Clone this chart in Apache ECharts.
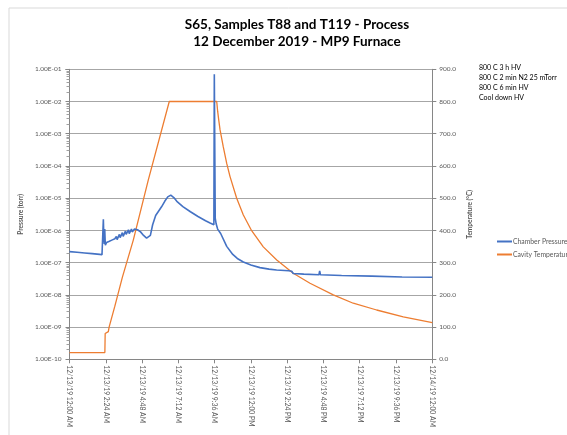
<!DOCTYPE html>
<html><head><meta charset="utf-8">
<script src="https://cdn.jsdelivr.net/npm/echarts@6/dist/echarts.min.js"></script>
<style>html,body{margin:0;padding:0;background:#fff}#c{width:567px;height:435px}</style>
</head><body><div id="c"></div>
<script>
// ---- data ----
const titleLines = ['S65, Samples T88 and T119 - Process', '12 December 2019 - MP9 Furnace'];
const tickLabels = ['12/13/19 12:00 AM','12/13/19 2:24 AM','12/13/19 4:48 AM','12/13/19 7:12 AM','12/13/19 9:36 AM','12/13/19 12:00 PM','12/13/19 2:24 PM','12/13/19 4:48 PM','12/13/19 7:12 PM','12/13/19 9:36 PM','12/14/19 12:00 AM'];
const notes = ['800 C 3 h HV','800 C 2 min N2 25 mTorr','800 C 6 min HV','Cool down HV'];
const seriesNames = ['Chamber Pressure','Cavity Temperature'];
// hours since 12/13/19 12:00 AM
const pressureHours = [0,0.5,1.0,1.5,2.0,2.15,2.2,2.24,2.27,2.3,2.33,2.37,2.45,2.6,2.8,3.0,3.1,3.15,3.3,3.35,3.5,3.55,3.7,3.75,3.9,3.95,4.1,4.15,4.3,4.5,4.7,4.9,5.1,5.2,5.35,5.5,5.7,5.9,6.1,6.3,6.5,6.7,6.9,7.1,7.5,8.0,8.5,9.0,9.3,9.55,9.58,9.61,9.64,9.7,9.8,10.0,10.4,10.8,11.1,11.5,12.0,12.6,13.2,13.7,14.5,14.7,14.8,15.5,16.5,16.55,16.6,18,20,22,24];
const pressureTorr = [2.2e-7,2.1e-7,2.0e-7,1.9e-7,1.8e-7,1.75e-7,1.8e-7,2.2e-6,6e-7,3.8e-7,1.1e-6,3.5e-7,4.2e-7,4.5e-7,5e-7,5.5e-7,6.5e-7,5.2e-7,7.5e-7,6e-7,8.5e-7,6.5e-7,9.5e-7,7.5e-7,1.05e-6,8e-7,1.1e-6,9e-7,1.1e-6,1.05e-6,9e-7,7e-7,5.8e-7,5.9e-7,7e-7,1.5e-6,2.9e-6,4e-6,5.5e-6,8e-6,1.1e-5,1.25e-5,1.05e-5,8e-6,5.5e-6,3.8e-6,2.7e-6,2e-6,1.7e-6,1.5e-6,7e-2,7e-2,2.4e-6,1.6e-6,1.1e-6,8e-7,3.2e-7,1.8e-7,1.35e-7,1.05e-7,8.5e-8,7e-8,6.3e-8,5.9e-8,5.6e-8,5.4e-8,4.6e-8,4.4e-8,4.2e-8,5.5e-8,4.2e-8,4e-8,3.8e-8,3.6e-8,3.5e-8];
const tempHours = [0,2.34,2.36,2.4,2.57,2.62,3.0,3.5,4.22,5.21,6.6,9.74,9.8,9.88,9.96,10.17,10.4,10.62,11.06,11.5,12.05,12.82,13.71,14.8,15.91,17.45,18.77,20.32,22.08,24];
const tempC = [21,21,80,84,86,100,165,255,370,556,800,800,770,740,712,660,608,567,500,448,399,349,308,267,236,200,174,153,132,114];

const pressureData = pressureHours.map((h,i)=>[h,pressureTorr[i]]);
const tempData = tempHours.map((h,i)=>[h,tempC[i]]);

const FONT = 'Lato, "Open Sans", sans-serif';
const LBL = '#595959';
function fmtExp(v){
  const e = Math.round(Math.log10(v));
  const m = v/Math.pow(10,e);
  const s = e<0?'-':'+';
  const a = Math.abs(e);
  return m.toFixed(2)+'E'+s+(a<10?'0':'')+a;
}
const chart = echarts.init(document.getElementById('c'), null, {renderer:'canvas'});
chart.setOption({
  animation:false,
  backgroundColor:'#fff',
  title:{text:titleLines.join('\n'), left:292, textAlign:'center', top:11,
    textStyle:{fontFamily:FONT,fontSize:13.5,fontWeight:'bold',color:'#000',lineHeight:17}},
  graphic:[
    {type:'rect', shape:{x:9,y:8,width:700,height:600}, style:{fill:'none',stroke:'#d9d9d9',lineWidth:1}, silent:true},
    {type:'text', left:479, top:63, style:{text:notes.join('\n'), fontFamily:FONT, fontSize:7, lineHeight:10, fill:'#000'}}
  ],
  legend:{orient:'vertical', left:492, top:233, itemWidth:15, itemHeight:2, itemGap:6, icon:'rect',
    textStyle:{fontFamily:FONT,fontSize:6.8,color:LBL,padding:[0,0,0,-4]},
    data:seriesNames},
  grid:{left:69.5, right:134.7, top:69.3, bottom:75.7, containLabel:false},
  xAxis:{type:'value', min:0, max:24, interval:2.4,
    axisLine:{lineStyle:{color:'#868686',width:1}},
    axisTick:{show:true,length:4,lineStyle:{color:'#868686'}},
    splitLine:{show:false},
    axisLabel:{rotate:-90, fontFamily:FONT, fontSize:6.8, color:LBL, margin:6,
      formatter:v=>tickLabels[Math.round(v/2.4)]}},
  yAxis:[
    {type:'log', logBase:10, min:1e-10, max:1e-1, position:'left',
      name:'Pressure (torr)', nameLocation:'middle', nameRotate:90, nameGap:37,
      nameTextStyle:{fontFamily:FONT,fontSize:6.5,fontWeight:'bold',color:LBL},
      axisLine:{show:true,lineStyle:{color:'#868686'}},
      axisTick:{show:true,length:4,lineStyle:{color:'#868686'}},
      minorTick:{show:true,splitNumber:9,length:3,lineStyle:{color:'#a0a0a0'}},
      splitLine:{show:true,lineStyle:{color:'#a6a6a6',width:1}},
      axisLabel:{fontFamily:FONT,fontSize:6.5,color:LBL,margin:8,formatter:fmtExp}},
    {type:'value', min:0, max:900, interval:100, position:'right',
      name:'Temperature (°C)', nameLocation:'middle', nameRotate:90, nameGap:25,
      nameTextStyle:{fontFamily:FONT,fontSize:6.5,fontWeight:'bold',color:LBL},
      axisLine:{show:true,lineStyle:{color:'#868686'}},
      axisTick:{show:true,length:4,lineStyle:{color:'#868686'}},
      splitLine:{show:false},
      axisLabel:{fontFamily:FONT,fontSize:6.5,color:LBL,margin:7,formatter:v=>v.toFixed(1)}}
  ],
  series:[
    {name:seriesNames[0], type:'line', yAxisIndex:0, data:pressureData, showSymbol:false, symbol:'none',
      lineStyle:{color:'#4472C4',width:1.6}, itemStyle:{color:'#4472C4'}, z:3},
    {name:seriesNames[1], type:'line', yAxisIndex:1, data:tempData, showSymbol:false, symbol:'none',
      lineStyle:{color:'#ED7D31',width:1.3}, itemStyle:{color:'#ED7D31'}, z:2}
  ]
});
</script></body></html>
